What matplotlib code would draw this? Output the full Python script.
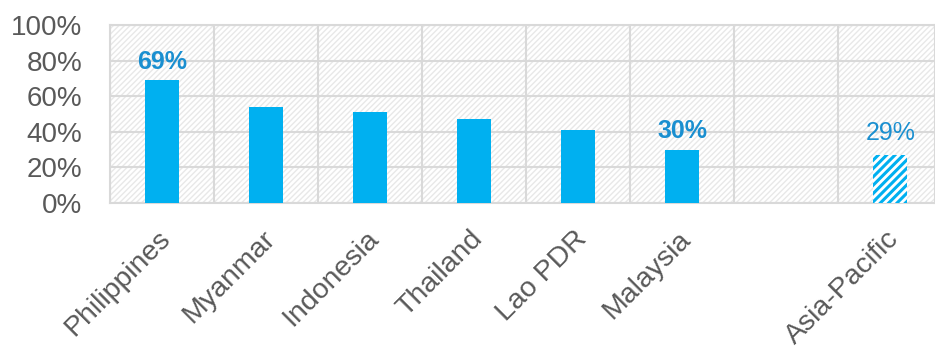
import matplotlib.pyplot as plt
import matplotlib as mpl
from matplotlib.patches import Rectangle
from matplotlib.transforms import ScaledTranslation

countries = ['Philippines', 'Myanmar', 'Indonesia', 'Thailand', 'Lao PDR', 'Malaysia', '', 'Asia-Pacific']
values = [0.69, 0.54, 0.51, 0.47, 0.41, 0.30, None, 0.27]
labels = {0: ('69%', 'bold'), 5: ('30%', 'bold'), 7: ('29%', 'normal')}
yticks = [0, 0.2, 0.4, 0.6, 0.8, 1.0]

blue = '#00b0f0'
lab_col = '#1a8fd0'
grey_txt = '#595959'
grid_col = '#d9d9d9'

plt.rcParams['font.family'] = ['Liberation Sans', 'DejaVu Sans']

fig = plt.figure(figsize=(9.35, 3.48), dpi=100)
ax = fig.add_axes([110 / 935, 1 - 203 / 348, 1 - 110 / 935, 178 / 348])

# hatched background of plot area
with mpl.rc_context({'hatch.linewidth': 1.0}):
    bg = Rectangle((0, 0), 1, 1, transform=ax.transAxes, facecolor='white',
                   edgecolor='#e8e8e8', hatch='//////', linewidth=0, zorder=0)
ax.add_patch(bg)

for i, v in enumerate(values):
    if v is None:
        continue
    if countries[i] == 'Asia-Pacific':
        with mpl.rc_context({'hatch.linewidth': 2.2}):
            ax.bar(i, v, width=0.33, facecolor='white', edgecolor=blue,
                   hatch='////', linewidth=0, zorder=3)
    else:
        ax.bar(i, v, width=0.33, color=blue, zorder=3)

for i, (txt, wt) in labels.items():
    gap = 0.055 if wt == 'normal' else 0.035
    ax.text(i, values[i] + gap, txt, ha='center', va='bottom', color=lab_col,
            fontsize=18, fontweight=wt, family=['Liberation Sans Narrow', 'Liberation Sans'],
            zorder=4)

ax.set_ylim(0, 1)
ax.set_xlim(-0.5, 7.43)
ax.set_yticks(yticks)
ax.set_yticklabels([f'{int(round(t * 100))}%' for t in yticks])
ax.set_xticks(range(len(countries)))
ax.set_xticklabels(countries, rotation=45, ha='right', va='center',
                   rotation_mode='anchor')
ax.tick_params(axis='y', length=0, pad=20, labelsize=20, labelcolor=grey_txt)
ax.tick_params(axis='x', length=0, pad=23, labelsize=20.5, labelcolor=grey_txt)
shift = ScaledTranslation(5 / 100, 0, fig.dpi_scale_trans)
for lab in ax.get_xticklabels():
    lab.set_transform(lab.get_transform() + shift)

# grid: horizontal at ticks, vertical at category boundaries
for t in yticks:
    ax.axhline(t, color=grid_col, lw=1.5, zorder=1)
for k in range(len(countries)):
    ax.axvline(k - 0.5, color=grid_col, lw=1.5, zorder=1)
for s in ax.spines.values():
    s.set_color(grid_col)
    s.set_linewidth(1.5)

fig.savefig('out.png', dpi=100)
